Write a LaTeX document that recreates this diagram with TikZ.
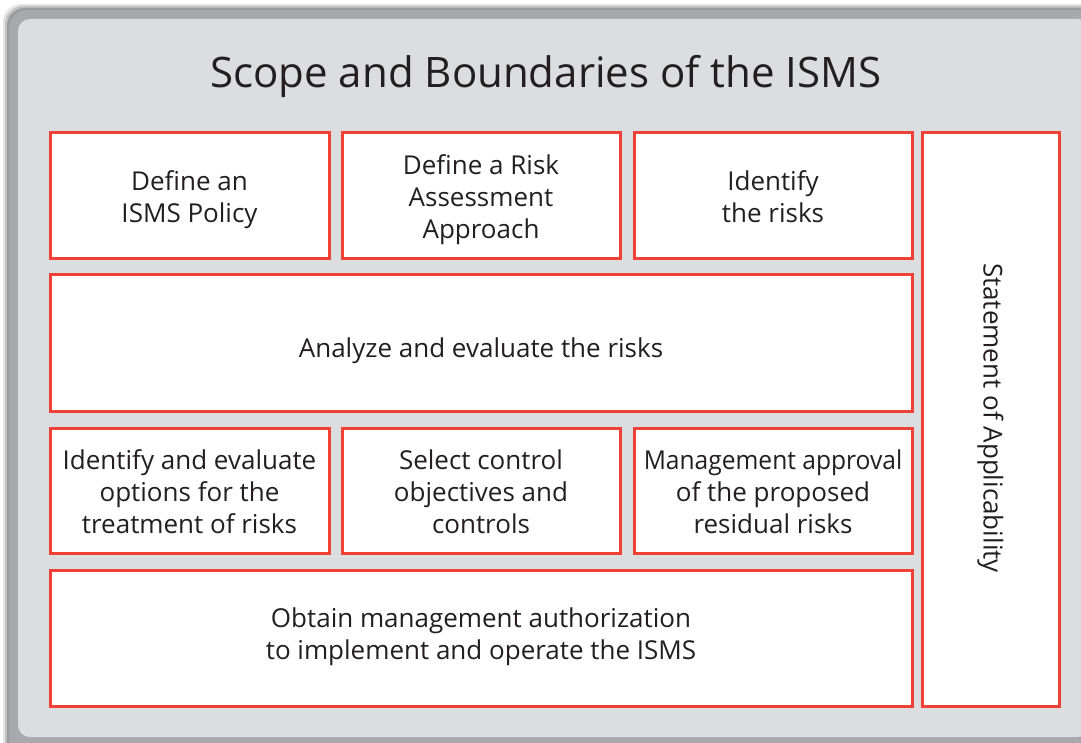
\documentclass[tikz,border=0pt]{standalone}
\usepackage{fontspec}
\setmainfont{Open Sans}
\definecolor{frameg}{HTML}{A7A9AC}
\definecolor{fillg}{HTML}{DCDDDE}
\definecolor{boxred}{HTML}{EF4136}
\definecolor{txt}{HTML}{231F20}
\begin{document}
\begin{tikzpicture}[x=1pt,y=-1pt,
  box/.style={draw=boxred,line width=3pt,fill=white,inner sep=0pt},
  lbl/.style={text=txt,align=center,font=\fontsize{26}{32}\selectfont,inner sep=0pt,
    execute at begin node=\strut, execute at end node=\strut},
]
\useasboundingbox (0,0) rectangle (1081,743);
\fill[white] (0,0) rectangle (1081,743);
% soft shadow
\foreach \i/\o in {6/10,4/15,2/20}{
  \fill[black,opacity=0.\o,rounded corners=18pt] (9-\i,10-\i) rectangle (1100,760);
}
\fill[frameg,rounded corners=18pt] (9,10) rectangle (1100,760);
\fill[fillg,rounded corners=12pt] (18,19) rectangle (1090,737);
\node[text=txt,font=\fontsize{42}{48}\selectfont] (title) at (546,76) {Scope and Boundaries of the ISMS};
% boxes
\node[box,minimum width=279pt,minimum height=126pt] (policy) at (189.5,196) {};
\node[box,minimum width=278pt,minimum height=126pt] (approach) at (481,196) {};
\node[box,minimum width=278pt,minimum height=126pt] (identify) at (773,196) {};
\node[box,minimum width=862pt,minimum height=136pt] (analyze) at (481,343) {};
\node[box,minimum width=279pt,minimum height=125pt] (options) at (189.5,490.5) {};
\node[box,minimum width=278pt,minimum height=125pt] (select) at (481,490.5) {};
\node[box,minimum width=278pt,minimum height=125pt] (approval) at (773,490.5) {};
\node[box,minimum width=862pt,minimum height=136pt] (obtain) at (481,638) {};
\node[box,minimum width=137pt,minimum height=573pt] (soa) at (990.5,419.5) {};
% labels
\node[lbl] (policyT) at (189.5,201) {Define an\\ISMS Policy};
\node[lbl] (approachT) at (481,201) {Define a Risk\\Assessment\\Approach};
\node[lbl] (identifyT) at (773,201) {Identify\\the risks};
\node[lbl] (analyzeT) at (481,351) {Analyze and evaluate the risks};
\node[lbl] (optionsT) at (189.5,496) {Identify and evaluate\\options for the\\treatment of risks};
\node[lbl] (selectT) at (481,496) {Select control\\objectives and\\controls};
\node[lbl] (approvalT) at (773,496) {\scalebox{0.945}[1]{Management approval}\\of the proposed\\residual risks};
\node[lbl] (obtainT) at (481,638) {Obtain management authorization\\to implement and operate the ISMS};
\node[lbl,rotate=-90] (soaT) at (990,418) {Statement of Applicability};
\end{tikzpicture}
\end{document}
